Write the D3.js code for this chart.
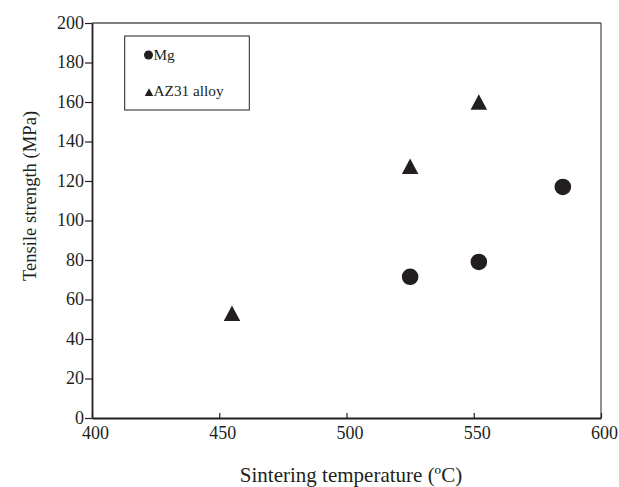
<!DOCTYPE html>
<html>
<head>
<meta charset="utf-8">
<script src="https://cdn.jsdelivr.net/npm/d3@7"></script>
<style>
  body { margin: 0; background: #fff; }
  svg text { font-family: "Liberation Serif", "Times New Roman", serif; fill: #231f20; }
</style>
</head>
<body>
<svg width="619" height="487"></svg>
<script>
// data
const mgTemp = [525, 552, 585];
const mgStrength = [71.5, 79, 117];
const azTemp = [455, 525, 552];
const azStrength = [53, 127.5, 160];
const xTicks = [400, 450, 500, 550, 600];
const yTicks = [0, 20, 40, 60, 80, 100, 120, 140, 160, 180, 200];
const legendLabels = ['Mg', 'AZ31 alloy'];

const INK = '#231f20';
const plotLeft = 92, plotRight = 601, plotTop = 23, plotBottom = 418;

const svg = d3.select('svg');

const x = d3.scaleLinear().domain([400, 600]).range([plotLeft, plotRight]);
const y = d3.scaleLinear().domain([0, 200]).range([plotBottom, plotTop]);

// frame: top and right lines are lighter
svg.append('line')
    .attr('x1', plotLeft).attr('x2', plotRight).attr('y1', plotTop).attr('y2', plotTop)
    .attr('stroke', '#555').attr('stroke-width', 1.3);
svg.append('line')
    .attr('x1', plotRight).attr('x2', plotRight).attr('y1', plotTop).attr('y2', plotBottom)
    .attr('stroke', '#555').attr('stroke-width', 1.3);

// y axis: ticks point outward
const yAxis = svg.append('g')
    .attr('transform', `translate(${plotLeft},0)`)
    .call(d3.axisLeft(y).tickValues(yTicks).tickSize(7).tickPadding(1).tickSizeOuter(0));
yAxis.select('.domain').attr('stroke', INK).attr('stroke-width', 1.8);
yAxis.selectAll('.tick line').attr('stroke', INK).attr('stroke-width', 1.2);
yAxis.selectAll('.tick text')
    .attr('font-size', 18).attr('fill', INK).attr('font-family', null)
    .attr('dy', '0.28em');

// x axis: ticks point inward
const xAxis = svg.append('g')
    .attr('transform', `translate(0,${plotBottom})`)
    .call(d3.axisBottom(x).tickValues(xTicks).tickSize(-5).tickPadding(0).tickSizeOuter(0));
xAxis.select('.domain').attr('stroke', INK).attr('stroke-width', 1.8);
xAxis.selectAll('.tick line').attr('stroke', INK).attr('stroke-width', 1.2);
xAxis.selectAll('.tick text')
    .attr('font-size', 18).attr('fill', INK).attr('font-family', null)
    .attr('y', 21).attr('dy', 0).attr('dx', 3);

// axis titles
svg.append('text')
    .attr('x', 351).attr('y', 482)
    .attr('text-anchor', 'middle')
    .attr('font-size', 21)
    .text('Sintering temperature (ºC)');

svg.append('text')
    .attr('transform', 'translate(36,196) rotate(-90)')
    .attr('text-anchor', 'middle')
    .attr('font-size', 18.6)
    .text('Tensile strength (MPa)');

// markers
function triPath(w, h) {
  return `M0,${-h / 2}L${w / 2},${h / 2}L${-w / 2},${h / 2}Z`;
}

const mg = mgTemp.map((t, i) => ({t, s: mgStrength[i]}));
const az = azTemp.map((t, i) => ({t, s: azStrength[i]}));

svg.append('g').selectAll('circle')
  .data(mg)
  .enter().append('circle')
    .attr('cx', d => x(d.t))
    .attr('cy', d => y(d.s))
    .attr('r', 8.3)
    .attr('fill', INK);

svg.append('g').selectAll('path')
  .data(az)
  .enter().append('path')
    .attr('transform', d => `translate(${x(d.t)},${y(d.s)})`)
    .attr('d', triPath(16.5, 15.5))
    .attr('fill', INK);

// legend
const legend = svg.append('g');
legend.append('rect')
    .attr('x', 124.7).attr('y', 36)
    .attr('width', 124.6).attr('height', 74)
    .attr('fill', 'none').attr('stroke', INK).attr('stroke-width', 1);

legend.append('circle')
    .attr('cx', 148.5).attr('cy', 55).attr('r', 4.5)
    .attr('fill', INK);
legend.append('path')
    .attr('transform', 'translate(149,92.2)')
    .attr('d', triPath(8.5, 7.8))
    .attr('fill', INK);

legend.selectAll('text')
  .data(legendLabels)
  .enter().append('text')
    .attr('x', 153.5)
    .attr('y', (d, i) => i === 0 ? 59.5 : 96)
    .attr('font-size', 15.3)
    .text(d => d);
</script>
</body>
</html>
